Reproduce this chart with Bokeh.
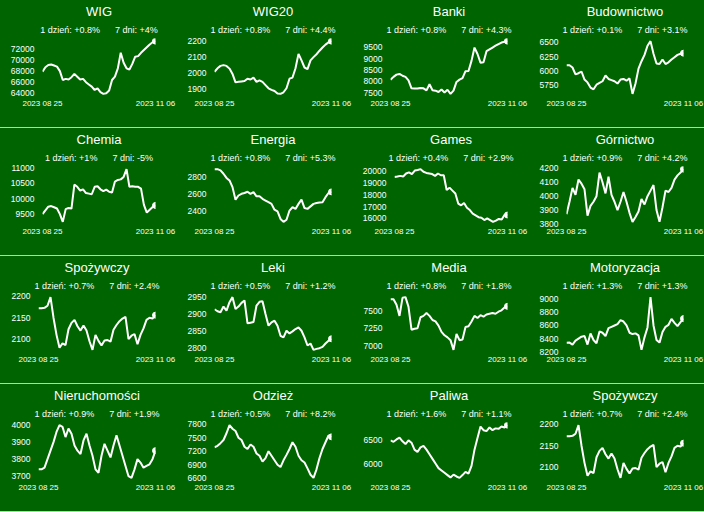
from bokeh.plotting import figure
from bokeh.models import Title, FixedTicker, Div, DataRange1d
from bokeh.layouts import column, row
from bokeh.embed import file_html
from bokeh.resources import INLINE

start_label = "2023 08 25"
end_label = "2023 11 06"

names = ["WIG", "WIG20", "Banki", "Budownictwo",
         "Chemia", "Energia", "Games", "Górnictwo",
         "Spożywczy", "Leki", "Media", "Motoryzacja",
         "Nieruchomości", "Odzież", "Paliwa", "Spożywczy"]
day_change = ["+0.8%", "+0.8%", "+0.8%", "+0.1%",
              "+1%", "+0.8%", "+0.4%", "+0.9%",
              "+0.7%", "+0.5%", "+0.8%", "+1.3%",
              "+0.9%", "+0.5%", "+1.6%", "+0.7%"]
week_change = ["+4%", "+4.4%", "+4.3%", "+3.1%",
               "-5%", "+5.3%", "+2.9%", "+4.2%",
               "+2.4%", "+1.2%", "+1.8%", "+1.3%",
               "+1.9%", "+8.2%", "+1.1%", "+2.4%"]

wig = [67900, 68700, 69100, 69200, 69000, 68800, 68000, 66400, 66600, 66500,
       66900, 67500, 67000, 66500, 66600, 66000, 65600, 65200, 64600, 64900,
       64200, 63900, 64000, 64500, 66400, 67000, 68500, 71300, 69500, 68500,
       68300, 69300, 70600, 70700, 71300, 71800, 72300, 72800, 73200, 73400]
wig20 = [2008, 2030, 2045, 2050, 2045, 2028, 1995, 1942, 1946, 1948,
         1950, 1965, 1960, 1972, 1945, 1955, 1945, 1925, 1905, 1895,
         1888, 1872, 1870, 1880, 1905, 1965, 1972, 2030, 2120, 2080,
         2035, 2025, 2080, 2100, 2118, 2140, 2160, 2178, 2192, 2200]
banki = [8075, 8200, 8300, 8330, 8250, 8200, 8050, 7700, 7690, 7690,
         7720, 7700, 7610, 7880, 7620, 7600, 7540, 7650, 7520, 7640,
         7460, 7600, 7980, 8080, 8150, 8450, 8460, 8900, 9480, 9200,
         8820, 8840, 9320, 9400, 9480, 9560, 9630, 9700, 9730, 9760]
budownictwo = [6100, 6100, 6060, 5940, 5960, 5990, 5850, 5800, 5710, 5680,
               5760, 5790, 5820, 5920, 5860, 5840, 5820, 5780, 5850, 5860,
               5830, 5870, 5600, 5780, 6040, 6170, 6280, 6440, 6520, 6300,
               6130, 6120, 6200, 6120, 6150, 6200, 6240, 6280, 6300, 6310]
chemia = [9500, 9620, 9740, 9760, 9720, 9680, 9500, 9250, 9660, 9700,
          9680, 10450, 10380, 10260, 10300, 10180, 10160, 10140, 10380, 10400,
          10300, 10240, 10290, 10220, 10200, 10550, 10600, 10620, 10700, 10950,
          10380, 10400, 10380, 10380, 10320, 9800, 9550, 9640, 9730, 9780]
energia = [2895, 2895, 2880, 2840, 2790, 2760, 2680, 2530, 2580, 2600,
           2610, 2625, 2600, 2620, 2570, 2570, 2540, 2520, 2500, 2480,
           2410, 2390, 2300, 2265, 2290, 2400, 2440, 2420, 2480, 2530,
           2430, 2420, 2450, 2480, 2490, 2495, 2500, 2560, 2610, 2623]
games = [19510, 19550, 19600, 19550, 19800, 19900, 19750, 20050, 20100, 20170,
         19950, 19850, 19800, 19750, 19600, 19800, 19650, 19650, 18400, 18600,
         18350, 18100, 17250, 17100, 17300, 16900, 16700, 16400, 16250, 16100,
         16050, 15850, 16000, 15850, 15700, 15800, 15950, 15900, 16300, 16280]
gornictwo = [3870, 3960, 4060, 4010, 4120, 4090, 4050, 3860, 3930, 3960,
             4000, 4170, 4100, 4020, 4140, 4010, 3960, 3900, 3960, 4030,
             3960, 3880, 3815, 3850, 3890, 3980, 3940, 4000, 4040, 4080,
             3900, 3815, 3920, 4040, 4030, 4060, 4120, 4150, 4170, 4195]
spozywczy = [2172, 2172, 2173, 2178, 2198, 2150, 2110, 2080, 2090, 2086,
             2123, 2138, 2145, 2130, 2120, 2132, 2120, 2095, 2075, 2110,
             2096, 2085, 2097, 2098, 2094, 2122, 2133, 2142, 2148, 2152,
             2100, 2108, 2112, 2088, 2110, 2125, 2145, 2150, 2148, 2156]
leki = [2914, 2908, 2905, 2922, 2910, 2935, 2950, 2915, 2922, 2933,
        2940, 2872, 2874, 2876, 2925, 2936, 2938, 2900, 2865, 2875,
        2880, 2865, 2835, 2830, 2850, 2842, 2848, 2855, 2860, 2850,
        2830, 2806, 2812, 2793, 2796, 2798, 2802, 2812, 2820, 2826]
media = [7670, 7670, 7590, 7430, 7690, 7700, 7560, 7230, 7245, 7250,
         7410, 7430, 7470, 7430, 7370, 7350, 7290, 7200, 7150, 7120,
         7080, 6940, 7170, 7080, 7090, 7270, 7280, 7350, 7430, 7400,
         7440, 7420, 7450, 7460, 7470, 7460, 7490, 7510, 7550, 7567]
motoryzacja = [8338, 8340, 8310, 8370, 8400, 8430, 8440, 8310, 8480, 8380,
               8330, 8510, 8490, 8440, 8560, 8580, 8600, 8620, 8680, 8660,
               8600, 8490, 8470, 8480, 8450, 8230, 8420, 8570, 9030, 8600,
               8380, 8340, 8500, 8580, 8610, 8700, 8640, 8590, 8650, 8704]
nieruchomosci = [3740, 3740, 3750, 3800, 3850, 3900, 3960, 4000, 3990, 3930,
                 3980, 3950, 3880, 3850, 3830, 3910, 3950, 3880, 3820, 3740,
                 3720, 3820, 3890, 3850, 3810, 3880, 3940, 3880, 3820, 3760,
                 3700, 3690, 3740, 3800, 3780, 3750, 3760, 3770, 3800, 3850]
odziez = [7290, 7320, 7380, 7450, 7600, 7780, 7700, 7650, 7500, 7450,
          7300, 7250, 7350, 7300, 7150, 7100, 6970, 7050, 7200, 7100,
          7000, 6900, 6850, 7000, 7120, 7250, 7400, 7300, 7100, 7000,
          6950, 6820, 6680, 6610, 6800, 7050, 7250, 7400, 7550, 7520]
paliwa = [6500, 6470, 6520, 6560, 6480, 6420, 6500, 6450, 6300, 6250,
          6350, 6380, 6300, 6200, 6100, 6000, 5900, 5850, 5800, 5750,
          5700, 5760, 5720, 5690, 5750, 5820, 5780, 5950, 6300, 6550,
          6800, 6720, 6700, 6780, 6720, 6760, 6750, 6800, 6780, 6830]

series = [wig, wig20, banki, budownictwo,
          chemia, energia, games, gornictwo,
          spozywczy, leki, media, motoryzacja,
          nieruchomosci, odziez, paliwa, spozywczy]

yticks = [[64000, 66000, 68000, 70000, 72000],
          [1900, 2000, 2100, 2200],
          [7500, 8000, 8500, 9000, 9500],
          [5750, 6000, 6250, 6500],
          [9500, 10000, 10500, 11000],
          [2400, 2600, 2800],
          [16000, 17000, 18000, 19000, 20000],
          [3800, 3900, 4000, 4100, 4200],
          [2100, 2150, 2200],
          [2800, 2850, 2900, 2950],
          [7000, 7250, 7500],
          [8200, 8400, 8600, 8800, 9000],
          [3700, 3800, 3900, 4000],
          [6600, 6900, 7200, 7500, 7800],
          [6000, 6500],
          [2100, 2150, 2200]]

BG = "#006400"
FG = "white"
SEP = "#c8c8c8"
FONT = "Liberation Sans"
PW, PH = 176, 127
TOTAL_W = PW * 4


def panel(name, d1, d7, vals, ticks):
    n = len(vals)
    xs = list(range(n))
    nch = max(len(str(t)) for t in ticks)
    left = int(round(11 + 4.7 * nch + 8))
    p = figure(width=PW, height=PH, output_backend="svg", toolbar_location=None,
               title=None,
               x_range=DataRange1d(range_padding=0),
               y_range=DataRange1d(range_padding=0.1),
               min_border_left=left, min_border_right=21,
               min_border_top=38, min_border_bottom=31,
               background_fill_color=BG, border_fill_color=BG,
               outline_line_color=None,
               styles={"background-color": BG})
    p.line(xs, vals, line_color=FG, line_width=2)
    p.scatter([xs[-1]], [vals[-1]], size=6, fill_color=FG, line_color=FG)

    p.xgrid.visible = False
    p.ygrid.visible = False

    p.xaxis.ticker = FixedTicker(ticks=[0, n - 1])
    p.xaxis.major_label_overrides = {0: start_label, n - 1: end_label}
    p.yaxis.ticker = FixedTicker(ticks=ticks)
    for ax in (p.xaxis[0], p.yaxis[0]):
        ax.axis_line_color = None
        ax.major_tick_line_color = None
        ax.minor_tick_line_color = None
        ax.major_tick_out = 0
        ax.major_tick_in = 0
        ax.minor_tick_out = 0
        ax.major_label_text_color = FG
        ax.major_label_text_font = FONT
        ax.major_label_text_font_size = "8.5px"
    p.xaxis.major_label_text_font_size = "8px"
    p.xaxis.major_label_standoff = 2
    p.yaxis.major_label_standoff = 8

    sub = Title(text=f"1 dzień: {d1}" + "\u00a0" * 6 + f"7 dni: {d7}",
                align="center", text_color=FG, text_font=FONT,
                text_font_size="9px", text_font_style="normal", standoff=7)
    p.add_layout(sub, "above")
    ttl = Title(text=name, align="center", text_color=FG, text_font=FONT,
                text_font_size="13px", text_font_style="normal", standoff=1)
    p.add_layout(ttl, "above")
    return p


rows = []
for r in range(4):
    figs = []
    for c in range(4):
        i = r * 4 + c
        figs.append(panel(names[i], day_change[i], week_change[i], series[i], yticks[i]))
    rows.append(row(*figs, spacing=0, styles={"background-color": BG}))
    rows.append(Div(width=TOTAL_W, height=1, margin=0,
                    styles={"background-color": SEP}))

layout = column(*rows, spacing=0, styles={"background-color": BG})

open("out.html", "w").write(file_html(layout, INLINE))
